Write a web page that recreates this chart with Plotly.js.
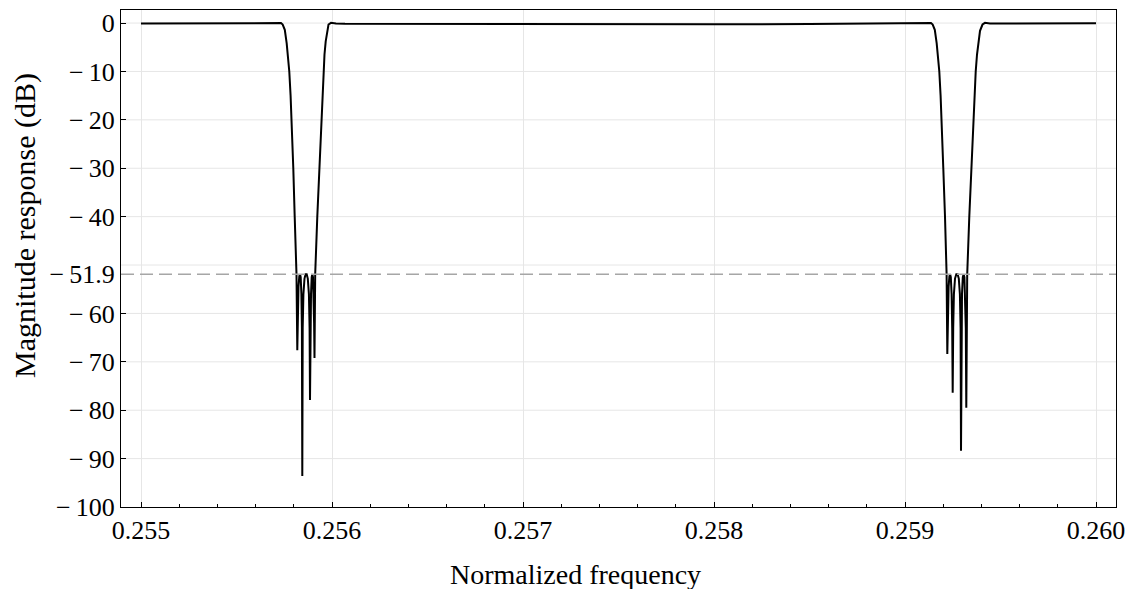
<!DOCTYPE html>
<html>
<head>
<meta charset="utf-8">
<script src="https://cdn.plot.ly/plotly-3.0.1.min.js"></script>
<style>html,body{margin:0;padding:0;background:#fff;}#chart{width:1128px;height:589px;}</style>
</head>
<body>
<div id="chart"></div>
<script>
// Normalized frequency samples
const freq = [
  0.2550000, 0.2553089, 0.2555707, 0.2556754, 0.2557173, 0.2557330,
  0.2557419, 0.2557529, 0.2557628, 0.2557701, 0.2557764, 0.2557832, 0.2557890,
  0.2557974, 0.2558047, 0.2558141, 0.2558183, 0.2558209, 0.2558246,
  0.2558288, 0.2558325, 0.2558361, 0.2558398, 0.2558424, 0.2558445,
  0.2558466, 0.2558503, 0.2558560, 0.2558618, 0.2558675, 0.2558733,
  0.2558791, 0.2558827, 0.2558848, 0.2558869, 0.2558901, 0.2558937,
  0.2558969, 0.2559005, 0.2559037, 0.2559063, 0.2559084, 0.2559120,
  0.2559230, 0.2559335, 0.2559385, 0.2559440, 0.2559545, 0.2559607, 0.2559670, 0.2559738,
  0.2559817, 0.2559948, 0.2560209, 0.2560681,
  0.2565000, 0.2570000, 0.2575000, 0.2580000, 0.2585000,
  0.2589738, 0.2590785, 0.2591204, 0.2591361,
  0.2591450, 0.2591560, 0.2591659, 0.2591733, 0.2591796, 0.2591864, 0.2591921,
  0.2592005, 0.2592094, 0.2592178, 0.2592215, 0.2592246, 0.2592283,
  0.2592325, 0.2592361, 0.2592398, 0.2592440, 0.2592471, 0.2592497,
  0.2592524, 0.2592560, 0.2592618, 0.2592686, 0.2592754, 0.2592817,
  0.2592874, 0.2592911, 0.2592932, 0.2592953, 0.2592984, 0.2593026,
  0.2593068, 0.2593110, 0.2593147, 0.2593183, 0.2593209, 0.2593257,
  0.2593366, 0.2593471, 0.2593521, 0.2593576, 0.2593702, 0.2593770, 0.2593840, 0.2593927,
  0.2594058, 0.2594188, 0.2594450, 0.2594974, 0.2597500, 0.2600000
];
// Magnitude response (dB)
const magnitude = [
  -0.10, -0.05, 0.00, 0.05, 0.10, 0.00,
  -0.3, -1.4, -4.2, -7.0, -10.0, -15.0, -20.0,
  -30.0, -40.0, -51.9, -67.6, -60.0, -54.5,
  -52.3, -51.9, -52.5, -56.0, -63.0, -93.6,
  -63.0, -56.0, -52.8, -51.9, -51.9, -52.8,
  -56.0, -63.0, -77.9, -63.0, -56.0, -52.5,
  -51.9, -52.5, -56.0, -62.0, -69.2, -51.9,
  -40.0, -30.0, -25.0, -20.0, -10.0, -6.5, -3.8, -1.6,
  -0.3, 0.05, -0.10, -0.15,
  -0.20, -0.25, -0.30, -0.25, -0.20,
  0.00, 0.10, 0.10, 0.00,
  -0.3, -1.4, -4.2, -7.0, -10.0, -15.0, -20.0,
  -30.0, -40.0, -51.9, -68.4, -60.0, -54.5,
  -52.3, -51.9, -52.5, -56.0, -63.0, -76.4,
  -63.0, -56.0, -52.8, -51.9, -51.9, -52.8,
  -56.0, -63.0, -88.4, -63.0, -56.0, -52.5,
  -51.9, -52.5, -56.0, -63.0, -79.5, -51.9,
  -40.0, -30.0, -25.0, -20.0, -10.0, -6.5, -3.8, -1.6,
  -0.3, 0.05, -0.10, -0.10, -0.08, -0.05
];
const threshold = -51.9;
const xTickVals = [0.255, 0.256, 0.257, 0.258, 0.259, 0.260];
const xTickText = ["0.255", "0.256", "0.257", "0.258", "0.259", "0.260"];
const yTickVals = [0, -10, -20, -30, -40, -51.9, -60, -70, -80, -90, -100];
const yTickText = ["0", "\u2212\u200910", "\u2212\u200920", "\u2212\u200930", "\u2212\u200940", "\u2212\u200951.9", "\u2212\u200960", "\u2212\u200970", "\u2212\u200980", "\u2212\u200990", "\u2212\u2009100"];
const yGridVals = [0, -10, -20, -30, -40, -50, -60, -70, -80, -90];
const xTitle = "Normalized frequency";
const yTitle = "Magnitude response (dB)";

const FONT = "Liberation Serif, Times New Roman, serif";
const xRange = [0.2548953, 0.2601047];
const yRange = [-100, 2.7];

const traces = [{
  x: freq, y: magnitude, type: "scatter", mode: "lines",
  line: {color: "#000000", width: 2}, hoverinfo: "skip", showlegend: false
}];

const gridShapes = yGridVals.map(v => ({
  type: "line", xref: "paper", x0: 0, x1: 1, yref: "y", y0: v, y1: v,
  line: {color: "#e6e6e6", width: 1}, layer: "below"
}));

const layout = {
  width: 1128, height: 589,
  margin: {l: 121, r: 12, t: 10, b: 82},
  paper_bgcolor: "#ffffff", plot_bgcolor: "#ffffff",
  font: {family: FONT, size: 26, color: "#000000"},
  showlegend: false,
  xaxis: {
    range: xRange, tickmode: "array", tickvals: xTickVals, ticktext: xTickText,
    ticks: "inside", ticklen: 5, tickwidth: 1, tickcolor: "#000",
    minor: {dtick: 0.0002, tick0: 0.255, ticks: "inside", ticklen: 3, tickwidth: 1, tickcolor: "#000", showgrid: false},
    showgrid: true, gridcolor: "#e6e6e6", gridwidth: 1,
    showline: true, linecolor: "#000", linewidth: 1, mirror: true,
    zeroline: false,
    tickfont: {family: FONT, size: 26}
  },
  yaxis: {
    range: yRange, tickmode: "array", tickvals: yTickVals, ticktext: yTickText,
    ticks: "inside", ticklen: 5, tickwidth: 1, tickcolor: "#000",
    showgrid: false,
    showline: true, linecolor: "#000", linewidth: 1, mirror: true,
    zeroline: false,
    tickfont: {family: FONT, size: 26}
  },
  annotations: [
    {text: xTitle, xref: "paper", yref: "paper", x: 0.4563, y: -0.1368,
     xanchor: "center", yanchor: "middle", showarrow: false, font: {family: FONT, size: 28}},
    {text: yTitle, xref: "paper", yref: "paper", x: -0.0965, y: 0.5674, textangle: -90,
     xanchor: "center", yanchor: "middle", showarrow: false, font: {family: FONT, size: 30}}
  ],
  shapes: gridShapes.concat([{
    type: "line", xref: "paper", x0: 0, x1: 1, yref: "y", y0: threshold, y1: threshold,
    line: {color: "#a6a6a6", width: 1.5, dash: "13px,6px"}, layer: "above"
  }])
};

Plotly.newPlot("chart", traces, layout, {staticPlot: true, displayModeBar: false});
</script>
</body>
</html>
